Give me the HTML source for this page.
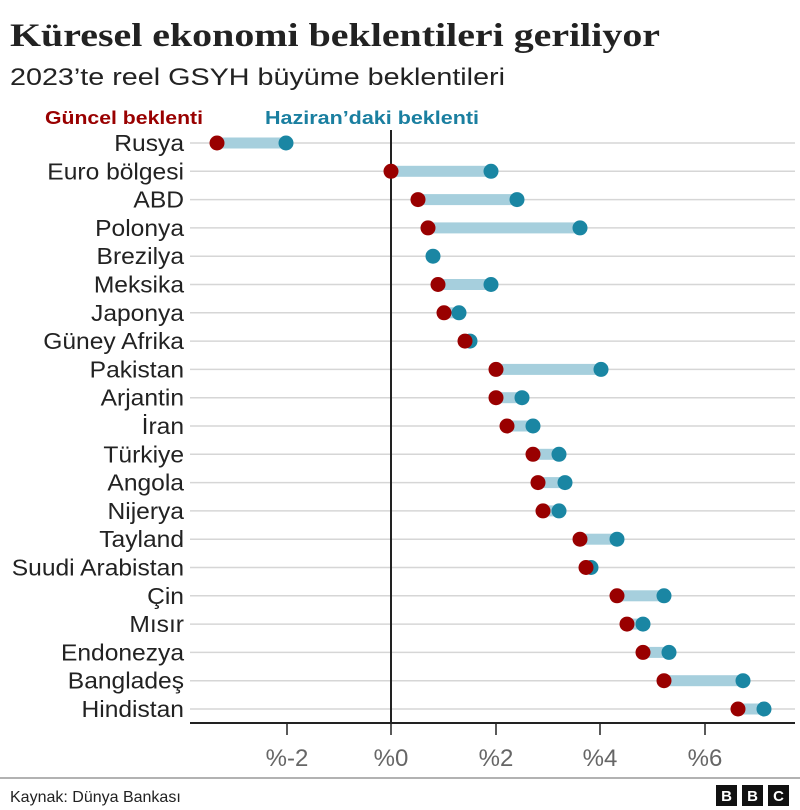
<!DOCTYPE html>
<html><head><meta charset="utf-8"><style>html,body{margin:0;padding:0;background:#fff}svg{display:block}</style></head><body>
<svg width="800" height="810" xmlns="http://www.w3.org/2000/svg" font-family="Liberation Sans, sans-serif">
<text x="10" y="46" font-family="Liberation Serif, serif" font-weight="bold" font-size="33" fill="#222" textLength="650" lengthAdjust="spacingAndGlyphs">Küresel ekonomi beklentileri geriliyor</text>
<text x="10" y="85" font-size="24" fill="#222" textLength="495" lengthAdjust="spacingAndGlyphs">2023’te reel GSYH büyüme beklentileri</text>
<text x="45" y="124" font-size="18" font-weight="bold" fill="#990000" textLength="158" lengthAdjust="spacingAndGlyphs">Güncel beklenti</text>
<text x="265" y="124" font-size="18" font-weight="bold" fill="#1a7fa0" textLength="214" lengthAdjust="spacingAndGlyphs">Haziran’daki beklenti</text>
<g stroke="#d6d6d6" stroke-width="1.5">
<line x1="190" x2="795" y1="143" y2="143"/><line x1="190" x2="795" y1="171.3" y2="171.3"/><line x1="190" x2="795" y1="199.6" y2="199.6"/><line x1="190" x2="795" y1="227.9" y2="227.9"/><line x1="190" x2="795" y1="256.2" y2="256.2"/><line x1="190" x2="795" y1="284.5" y2="284.5"/><line x1="190" x2="795" y1="312.8" y2="312.8"/><line x1="190" x2="795" y1="341.1" y2="341.1"/><line x1="190" x2="795" y1="369.4" y2="369.4"/><line x1="190" x2="795" y1="397.7" y2="397.7"/><line x1="190" x2="795" y1="426" y2="426"/><line x1="190" x2="795" y1="454.3" y2="454.3"/><line x1="190" x2="795" y1="482.6" y2="482.6"/><line x1="190" x2="795" y1="510.9" y2="510.9"/><line x1="190" x2="795" y1="539.2" y2="539.2"/><line x1="190" x2="795" y1="567.5" y2="567.5"/><line x1="190" x2="795" y1="595.8" y2="595.8"/><line x1="190" x2="795" y1="624.1" y2="624.1"/><line x1="190" x2="795" y1="652.4" y2="652.4"/><line x1="190" x2="795" y1="680.7" y2="680.7"/><line x1="190" x2="795" y1="709" y2="709"/>
</g>
<g font-size="23" fill="#222" text-anchor="end" transform="translate(184,0) scale(1.07,1) translate(-184,0)">
<text x="184" y="151">Rusya</text><text x="184" y="179.3">Euro bölgesi</text><text x="184" y="207.6">ABD</text><text x="184" y="235.9">Polonya</text><text x="184" y="264.2">Brezilya</text><text x="184" y="292.5">Meksika</text><text x="184" y="320.8">Japonya</text><text x="184" y="349.1">Güney Afrika</text><text x="184" y="377.4">Pakistan</text><text x="184" y="405.7">Arjantin</text><text x="184" y="434">İran</text><text x="184" y="462.3">Türkiye</text><text x="184" y="490.6">Angola</text><text x="184" y="518.9">Nijerya</text><text x="184" y="547.2">Tayland</text><text x="184" y="575.5">Suudi Arabistan</text><text x="184" y="603.8">Çin</text><text x="184" y="632.1">Mısır</text><text x="184" y="660.4">Endonezya</text><text x="184" y="688.7">Bangladeş</text><text x="184" y="717">Hindistan</text>
</g>
<line x1="391" y1="130" x2="391" y2="723" stroke="#222" stroke-width="2"/>
<g fill="#a6cfdd">
<rect x="217" y="137.5" width="69" height="11"/><rect x="391" y="165.8" width="100" height="11"/><rect x="418" y="194.1" width="99" height="11"/><rect x="428" y="222.4" width="152" height="11"/><rect x="438" y="279" width="53" height="11"/><rect x="444" y="307.3" width="15" height="11"/><rect x="465" y="335.6" width="5" height="11"/><rect x="496" y="363.9" width="105" height="11"/><rect x="496" y="392.2" width="26" height="11"/><rect x="507" y="420.5" width="26" height="11"/><rect x="533" y="448.8" width="26" height="11"/><rect x="538" y="477.1" width="27" height="11"/><rect x="543" y="505.4" width="16" height="11"/><rect x="580" y="533.7" width="37" height="11"/><rect x="586" y="562" width="5" height="11"/><rect x="617" y="590.3" width="47" height="11"/><rect x="627" y="618.6" width="16" height="11"/><rect x="643" y="646.9" width="26" height="11"/><rect x="664" y="675.2" width="79" height="11"/><rect x="738" y="703.5" width="26" height="11"/>
</g>
<g fill="#1a86a3">
<circle r="7.5" cx="286" cy="143"/><circle r="7.5" cx="491" cy="171.3"/><circle r="7.5" cx="517" cy="199.6"/><circle r="7.5" cx="580" cy="227.9"/><circle r="7.5" cx="433" cy="256.2"/><circle r="7.5" cx="491" cy="284.5"/><circle r="7.5" cx="459" cy="312.8"/><circle r="7.5" cx="470" cy="341.1"/><circle r="7.5" cx="601" cy="369.4"/><circle r="7.5" cx="522" cy="397.7"/><circle r="7.5" cx="533" cy="426"/><circle r="7.5" cx="559" cy="454.3"/><circle r="7.5" cx="565" cy="482.6"/><circle r="7.5" cx="559" cy="510.9"/><circle r="7.5" cx="617" cy="539.2"/><circle r="7.5" cx="591" cy="567.5"/><circle r="7.5" cx="664" cy="595.8"/><circle r="7.5" cx="643" cy="624.1"/><circle r="7.5" cx="669" cy="652.4"/><circle r="7.5" cx="743" cy="680.7"/><circle r="7.5" cx="764" cy="709"/>
</g>
<g fill="#990000">
<circle r="7.5" cx="217" cy="143"/><circle r="7.5" cx="391" cy="171.3"/><circle r="7.5" cx="418" cy="199.6"/><circle r="7.5" cx="428" cy="227.9"/><circle r="7.5" cx="438" cy="284.5"/><circle r="7.5" cx="444" cy="312.8"/><circle r="7.5" cx="465" cy="341.1"/><circle r="7.5" cx="496" cy="369.4"/><circle r="7.5" cx="496" cy="397.7"/><circle r="7.5" cx="507" cy="426"/><circle r="7.5" cx="533" cy="454.3"/><circle r="7.5" cx="538" cy="482.6"/><circle r="7.5" cx="543" cy="510.9"/><circle r="7.5" cx="580" cy="539.2"/><circle r="7.5" cx="586" cy="567.5"/><circle r="7.5" cx="617" cy="595.8"/><circle r="7.5" cx="627" cy="624.1"/><circle r="7.5" cx="643" cy="652.4"/><circle r="7.5" cx="664" cy="680.7"/><circle r="7.5" cx="738" cy="709"/>
</g>
<line x1="190" y1="723" x2="795" y2="723" stroke="#222" stroke-width="2"/>
<g stroke="#222" stroke-width="1.5">
<line x1="287" y1="723" x2="287" y2="735"/><line x1="391" y1="723" x2="391" y2="735"/><line x1="496" y1="723" x2="496" y2="735"/><line x1="600" y1="723" x2="600" y2="735"/><line x1="705" y1="723" x2="705" y2="735"/>
</g>
<g font-size="24" fill="#666" text-anchor="middle">
<text x="287" y="766">%-2</text><text x="391" y="766">%0</text><text x="496" y="766">%2</text><text x="600" y="766">%4</text><text x="705" y="766">%6</text>
</g>
<line x1="0" y1="778" x2="800" y2="778" stroke="#999" stroke-width="1.5"/>
<text x="10" y="802" font-size="16" fill="#222">Kaynak: Dünya Bankası</text>
<g font-size="15" font-weight="bold" fill="#fff" text-anchor="middle">
<rect x="716" y="785" width="21" height="21" fill="#111"/><text x="726.5" y="801">B</text>
<rect x="742" y="785" width="21" height="21" fill="#111"/><text x="752.5" y="801">B</text>
<rect x="768" y="785" width="21" height="21" fill="#111"/><text x="778.5" y="801">C</text>
</g>
</svg>
</body></html>
